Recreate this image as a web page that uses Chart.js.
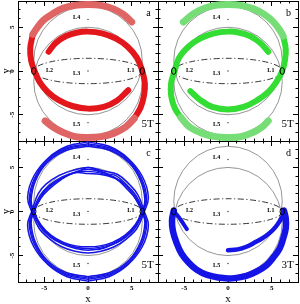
<!DOCTYPE html>
<html><head><meta charset="utf-8">
<script src="https://cdn.jsdelivr.net/npm/chart.js@4.4.1/dist/chart.umd.min.js"></script>
<style>
html,body{margin:0;padding:0;background:#fff;overflow:hidden}
#wrap{position:relative;width:300px;height:304px}
#wrap canvas{position:absolute;left:0;top:0}
</style></head><body>
<div id="wrap">
<canvas id="pa" width="300" height="304"></canvas>
<canvas id="pb" width="300" height="304"></canvas>
<canvas id="pc" width="300" height="304"></canvas>
<canvas id="pd" width="300" height="304"></canvas>
</div>
<script>
// ---------------- data ----------------
const axisRange = [-8, 8];
const tickValues = [-5, 0, 5];
const panelLetters = ['a', 'b', 'c', 'd'];
const periodLabels = ['5T', '5T', '5T', '3T'];
const axisTitles = ['x', 'y'];

const lagrangeNames = ['L1', 'L2', 'L3', 'L4', 'L5'];
const lagrangeX = [6.2, -6.2, 0, 0, 0];
const lagrangeY = [0, 0, 0, 5.9, -5.9];
const lagrangeLabelX = [4.9, -4.4, -1.3, -1.3, -1.3];
const lagrangeLabelY = [0.1, 0.1, -0.3, 6.1, -6.1];

const refCircleCentreY = [1.2, -1.2];
const refCircleRadius = [6.2, 6.2];
const refEllipseAxes = [6.2, 1.45];

// panel a (red)
const redLightA = [[5.0,5.6],[4.0,6.5],[2.9,7.1],[1.5,7.5],[0,7.6],[-1.5,7.5],[-2.8,7.2],[-4.1,6.5],[-5.1,5.8],[-5.9,4.8],[-6.3,4.2]];
const redDarkA  = [[-6.3,4.2],[-6.6,2.6],[-6.5,1.2],[-6.1,0],[-5.5,-1.3],[-4.6,-2.4],[-3.4,-3.3],[-1.8,-4.0],[0,-4.3],[1.8,-4.1],[3.3,-3.4],[4.6,-2.2]];
const redDarkB  = [[-4.5,2.2],[-3.7,3.2],[-2.5,4.0],[-1.2,4.4],[0,4.5],[1.6,4.3],[3.2,3.7],[4.5,2.8],[5.6,1.5],[6.2,0],[6.5,-1.4],[6.4,-2.8],[6.0,-4.2],[5.3,-5.4]];
const redLightB = [[5.3,-5.4],[4.3,-6.4],[3.0,-7.1],[1.5,-7.5],[0,-7.6],[-1.5,-7.5],[-2.9,-7.0],[-4.0,-6.4],[-4.9,-5.7]];

// panel b (green)
const greenLightA = [[-5.1,5.6],[-4.0,6.5],[-2.9,7.1],[-1.5,7.5],[0,7.6],[1.5,7.5],[2.9,7.1],[4.1,6.5],[5.1,5.7],[5.9,4.7],[6.3,4.0]];
const greenDarkA  = [[6.3,4.0],[6.6,2.5],[6.5,1.2],[6.2,0],[5.5,-1.3],[4.6,-2.4],[3.4,-3.3],[1.8,-4.1],[0,-4.4],[-1.8,-4.1],[-3.2,-3.3],[-4.3,-2.3]];
const greenDarkB  = [[4.6,2.2],[3.7,3.2],[2.5,4.0],[1.2,4.4],[0,4.5],[-1.6,4.3],[-3.2,3.7],[-4.5,2.8],[-5.6,1.5],[-6.1,0],[-6.5,-1.4],[-6.5,-2.8],[-6.1,-4.2],[-5.4,-5.3]];
const greenLightB = [[-5.4,-5.3],[-4.4,-6.4],[-3.0,-7.1],[-1.5,-7.5],[0,-7.6],[1.5,-7.5],[2.9,-7.0],[3.9,-6.4],[4.6,-5.7]];

// panel c (blue, many strands)
const blueUpperA = [[0,7.7],[2.5,7.2],[4.6,5.9],[6.1,3.8],[6.7,1.5],[6.3,0],[5.5,-1.7],[4.3,-2.9],[2.9,-3.7],[1.4,-4.2],[0,-4.4],[-1.4,-4.2],[-2.9,-3.7],[-4.3,-2.9],[-5.5,-1.7],[-6.3,0],[-6.7,1.5],[-6.1,3.8],[-4.6,5.9],[-2.5,7.2],[0,7.7]];
const blueUpperB = [[0,7.4],[2.6,6.9],[4.7,5.5],[6.0,3.5],[6.5,1.3],[6.2,0.1],[5.4,-1.5],[4.2,-2.7],[2.8,-3.5],[1.4,-3.9],[0,-4.0],[-1.4,-3.9],[-2.8,-3.5],[-4.2,-2.7],[-5.4,-1.5],[-6.2,0.1],[-6.5,1.3],[-6.0,3.5],[-4.7,5.5],[-2.6,6.9],[0,7.4]];
const blueUpperC = [[0,7.9],[2.4,7.4],[4.5,6.1],[6.2,4.0],[6.9,1.6],[6.4,-0.1],[5.6,-1.9],[4.4,-3.1],[3.0,-4.0],[1.5,-4.5],[0,-4.7],[-1.5,-4.5],[-3.0,-4.0],[-4.4,-3.1],[-5.6,-1.9],[-6.4,-0.1],[-6.9,1.6],[-6.2,4.0],[-4.5,6.1],[-2.4,7.4],[0,7.9]];
const blueUpperD = [[0,7.55],[2.5,7.05],[4.65,5.7],[6.05,3.65],[6.6,1.4],[6.25,0],[5.45,-1.6],[4.25,-2.8],[2.85,-3.6],[1.4,-4.05],[0,-4.2],[-1.4,-4.05],[-2.85,-3.6],[-4.25,-2.8],[-5.45,-1.6],[-6.25,0],[-6.6,1.4],[-6.05,3.65],[-4.65,5.7],[-2.55,7.05],[0,7.55]];
const blueLowerA = [[0,-7.7],[2.5,-7.2],[4.6,-5.9],[6.1,-3.8],[6.7,-1.5],[6.3,0],[5.5,1.8],[4.4,3.0],[3.0,3.9],[1.4,4.5],[0,4.8],[-1.4,4.5],[-3.0,3.9],[-4.4,3.0],[-5.5,1.8],[-6.3,0],[-6.7,-1.5],[-6.1,-3.8],[-4.6,-5.9],[-2.5,-7.2],[0,-7.7]];
const blueLowerB = [[0,-7.4],[2.6,-6.9],[4.7,-5.5],[6.0,-3.5],[6.5,-1.3],[6.2,-0.1],[5.4,1.5],[4.5,2.5],[3.2,3.7],[1.5,4.2],[0,4.3],[-1.5,4.4],[-3.1,3.6],[-4.6,2.4],[-5.4,1.5],[-6.2,-0.1],[-6.5,-1.3],[-6.0,-3.5],[-4.7,-5.5],[-2.6,-6.9],[0,-7.4]];
const blueLowerC = [[0,-7.9],[2.4,-7.4],[4.5,-6.1],[6.2,-4.0],[6.9,-1.6],[6.4,0.1],[5.7,1.9],[4.8,3.0],[3.4,4.2],[1.8,4.6],[0,5.0],[-1.6,4.7],[-3.3,4.1],[-4.8,3.1],[-5.7,2.0],[-6.4,0.1],[-6.9,-1.6],[-6.2,-4.0],[-4.5,-6.1],[-2.4,-7.4],[0,-7.9]];
const blueLowerD = [[0,-7.55],[2.55,-7.05],[4.65,-5.7],[6.05,-3.65],[6.6,-1.4],[6.25,0],[5.45,1.65],[4.45,2.75],[3.1,3.8],[1.45,4.35],[0,4.55],[-1.45,4.45],[-3.05,3.75],[-4.5,2.7],[-5.45,1.65],[-6.25,0],[-6.6,-1.4],[-6.05,-3.65],[-4.65,-5.7],[-2.55,-7.05],[0,-7.55]];
const blueWavyTop = [[-6.3,0],[-5.6,1.2],[-4.9,2.4],[-4.2,3.0],[-3.3,3.6],[-2.3,4.1],[-1.2,4.5],[0,5.0],[1.0,4.7],[2.2,4.3],[3.3,4.0],[4.3,3.1],[5.0,2.1],[5.7,1.0],[6.3,0]];
const blueWavyBottom = [[-6.3,0],[-5.7,-1.1],[-4.9,-2.2],[-3.9,-3.1],[-2.6,-3.7],[-1.2,-4.1],[0,-4.2],[1.3,-4.3],[2.7,-3.8],[3.9,-3.2],[4.9,-2.3],[5.7,-1.2],[6.3,0]];

// panel d (blue, single band)
const blueBandInner = [[0,-4.4],[1.1,-4.3],[2.1,-4.0],[3.1,-3.5],[4.0,-3.0],[4.8,-2.4],[5.4,-1.8],[5.9,-1.1],[6.3,-0.4],[6.4,0.1]];
const blueBandOuter = [[6.4,0.1],[6.6,-0.8],[6.6,-1.9],[6.3,-3.1],[5.9,-4.2],[5.2,-5.2],[4.4,-6.1],[3.3,-6.8],[2.1,-7.3],[0,-7.6],[-2.4,-7.2],[-3.6,-6.6],[-4.5,-5.8],[-5.3,-4.8],[-5.9,-3.5],[-6.3,-2.2],[-6.4,-1.0],[-6.2,0.1]];
const blueBandTail = [[-6.2,0.1],[-5.9,-0.3],[-5.5,-0.8],[-5.1,-1.4],[-4.7,-2.0]];

// ---------------- layout / style ----------------
const BOX = {
  a: {l: 18, r: 158, t: 1, b: 141},
  b: {l: 158, r: 298, t: 1, b: 141},
  c: {l: 18, r: 158, t: 141, b: 282},
  d: {l: 158, r: 298, t: 141, b: 282}
};
const W = 300, H = 304;
const SERIF = '"Liberation Serif", "DejaVu Serif", serif';

function pts(arr) { return arr.map(p => ({x: p[0], y: p[1]})); }
function band(arr, color, width) {
  return {data: pts(arr), showLine: true, borderColor: color, borderWidth: width,
    pointRadius: 0, pointHoverRadius: 0, tension: 0.4, fill: false,
    borderCapStyle: 'round', borderJoinStyle: 'round'};
}

const geometryPlugin = {
  id: 'geometry',
  beforeDatasetsDraw(chart) {
    const {ctx, chartArea: a} = chart;
    const xs = chart.scales.x, ys = chart.scales.y;
    const px = v => xs.getPixelForValue(v), py = v => ys.getPixelForValue(v);
    ctx.save();
    ctx.beginPath(); ctx.rect(a.left, a.top, a.right - a.left, a.bottom - a.top); ctx.clip();
    ctx.strokeStyle = '#7a7a7a'; ctx.lineWidth = 0.8;
    for (let i = 0; i < refCircleCentreY.length; i++) {
      const rx = px(refCircleRadius[i]) - px(0);
      const ry = py(0) - py(refCircleRadius[i]);
      ctx.beginPath(); ctx.ellipse(px(0), py(refCircleCentreY[i]), rx, ry, 0, 0, Math.PI * 2); ctx.stroke();
    }
    ctx.strokeStyle = '#222'; ctx.lineWidth = 0.9; ctx.setLineDash([6, 2.5, 1.2, 2.5]);
    ctx.beginPath();
    ctx.ellipse(px(0), py(0), px(refEllipseAxes[0]) - px(0), py(0) - py(refEllipseAxes[1]), 0, 0, Math.PI * 2);
    ctx.stroke();
    ctx.restore();
  },
  afterDatasetsDraw(chart, args, opts) {
    const {ctx} = chart;
    const xs = chart.scales.x, ys = chart.scales.y;
    const px = v => xs.getPixelForValue(v), py = v => ys.getPixelForValue(v);
    ctx.save();
    ctx.strokeStyle = '#000'; ctx.lineWidth = 1;
    for (let i = 0; i < 2; i++) {
      ctx.beginPath(); ctx.ellipse(px(lagrangeX[i]), py(lagrangeY[i]), 2.2, 3.4, 0, 0, Math.PI * 2); ctx.stroke();
    }
    ctx.fillStyle = '#333';
    for (let i = 2; i < 5; i++) {
      ctx.beginPath(); ctx.arc(px(lagrangeX[i]), py(lagrangeY[i]), 0.7, 0, Math.PI * 2); ctx.fill();
    }
    ctx.fillStyle = '#000';
    ctx.font = 'bold 6px ' + SERIF; ctx.textAlign = 'center'; ctx.textBaseline = 'middle';
    for (let i = 0; i < 5; i++) ctx.fillText(lagrangeNames[i], px(lagrangeLabelX[i]), py(lagrangeLabelY[i]));
    ctx.font = '10px ' + SERIF;
    ctx.fillText(opts.letter, px(6.9), py(6.6));
    ctx.font = '11px ' + SERIF;
    ctx.fillText(opts.period, px(6.8), py(-6.1));
    ctx.restore();
  }
};

function fixSize(prop, value) {
  return s => {
    s[prop] = value;
    s.paddingTop = 0; s.paddingBottom = 0; s.paddingLeft = 0; s.paddingRight = 0;
  };
}

function makeScales(box, showX, showY) {
  const base = {type: 'linear', min: axisRange[0], max: axisRange[1]};
  const tickFont = {family: SERIF, size: 7, weight: 'bold'};
  const frame = {display: true, color: '#000', width: 1};
  const noBorder = {display: false};
  const major = {display: false, stepSize: 5, includeBounds: false};
  const minor = {display: false, stepSize: 1, includeBounds: false};
  const majGrid = {drawOnChartArea: false, tickLength: -5, tickColor: '#000', tickWidth: 1};
  const minGrid = {drawOnChartArea: false, tickLength: -2.5, tickColor: '#000', tickWidth: 1};
  const labelGrid = {display: false, drawTicks: false, drawOnChartArea: false};
  return {
    x: {...base, position: 'bottom', weight: 3, afterFit: fixSize('height', H - box.b),
      grid: labelGrid, border: noBorder,
      ticks: {display: showX, stepSize: 5, includeBounds: false, autoSkip: false, maxRotation: 0,
        padding: 2, color: '#000', font: tickFont,
        callback: v => tickValues.includes(v) ? String(v) : ''},
      title: {display: showX, text: axisTitles[0], color: '#000', font: {family: SERIF, size: 11}, padding: {top: 0, bottom: -2}}},
    xMaj: {...base, position: 'bottom', weight: 1, afterFit: fixSize('height', 0), grid: majGrid, border: frame, ticks: major},
    xMin: {...base, position: 'bottom', weight: 0, afterFit: fixSize('height', 0), grid: minGrid, border: noBorder, ticks: minor},
    xTMaj: {...base, position: 'top', weight: 1, afterFit: fixSize('height', 0), grid: majGrid, border: frame, ticks: major},
    xTMin: {...base, position: 'top', weight: 0, afterFit: fixSize('height', 0), grid: minGrid, border: noBorder, ticks: minor},
    y: {...base, position: 'left', weight: 3, afterFit: fixSize('width', box.l),
      grid: labelGrid, border: noBorder,
      ticks: {display: showY, stepSize: 5, includeBounds: false, autoSkip: false, minRotation: 90, maxRotation: 90,
        crossAlign: 'center', padding: 3, color: '#000', font: tickFont,
        callback: v => tickValues.includes(v) ? String(v) : ''},
      title: {display: showY, text: axisTitles[1], color: '#000', font: {family: SERIF, size: 11}, padding: 0}},
    yMaj: {...base, position: 'left', weight: 1, afterFit: fixSize('width', 0), grid: majGrid, border: frame, ticks: major},
    yMin: {...base, position: 'left', weight: 0, afterFit: fixSize('width', 0), grid: minGrid, border: noBorder, ticks: minor},
    yRMaj: {...base, position: 'right', weight: 1, afterFit: fixSize('width', 0), grid: majGrid, border: frame, ticks: major},
    yRMin: {...base, position: 'right', weight: 0, afterFit: fixSize('width', 0), grid: minGrid, border: noBorder, ticks: minor}
  };
}

function makePanel(id, key, idx, datasets, showX, showY) {
  const box = BOX[key];
  return new Chart(document.getElementById(id), {
    type: 'scatter',
    data: {datasets},
    options: {
      responsive: false, animation: false, devicePixelRatio: 1,
      layout: {padding: {left: 0, bottom: 0, top: box.t, right: W - box.r}},
      plugins: {legend: {display: false}, tooltip: {enabled: false},
        geometry: {letter: panelLetters[idx], period: periodLabels[idx]}},
      events: [],
      scales: makeScales(box, showX, showY)
    },
    plugins: [geometryPlugin]
  });
}

const RED = '#e3161b', RED_EDGE = '#e06666', RED_LIGHT = '#f4a9a9';
const GREEN = '#33dd33', GREEN_EDGE = '#77dd77', GREEN_LIGHT = '#aaf0aa';
const BLUE = '#1414e6';

makePanel('pa', 'a', 0, [
  band(redLightA, RED_EDGE, 7), band(redLightA, RED_LIGHT, 4.5),
  band(redLightB, RED_EDGE, 7), band(redLightB, RED_LIGHT, 4.5),
  band(redDarkA, RED, 6), band(redDarkB, RED, 6)
], false, true);

makePanel('pb', 'b', 1, [
  band(greenLightA, GREEN_EDGE, 7), band(greenLightA, GREEN_LIGHT, 4.5),
  band(greenLightB, GREEN_EDGE, 7), band(greenLightB, GREEN_LIGHT, 4.5),
  band(greenDarkA, GREEN, 6), band(greenDarkB, GREEN, 6)
], false, false);

makePanel('pc', 'c', 2, [
  band(blueUpperA, BLUE, 1.5), band(blueUpperB, BLUE, 1.5), band(blueUpperC, BLUE, 1.5), band(blueUpperD, BLUE, 1.2),
  band(blueLowerA, BLUE, 1.5), band(blueLowerB, BLUE, 1.5), band(blueLowerC, BLUE, 1.5), band(blueLowerD, BLUE, 1.2),
  band(blueWavyTop, BLUE, 1.3), band(blueWavyBottom, BLUE, 1.3)
], true, true);

makePanel('pd', 'd', 3, [
  band(blueBandInner, BLUE, 4.5), band(blueBandOuter, BLUE, 6.5), band(blueBandTail, BLUE, 4)
], true, false);
</script></body></html>
